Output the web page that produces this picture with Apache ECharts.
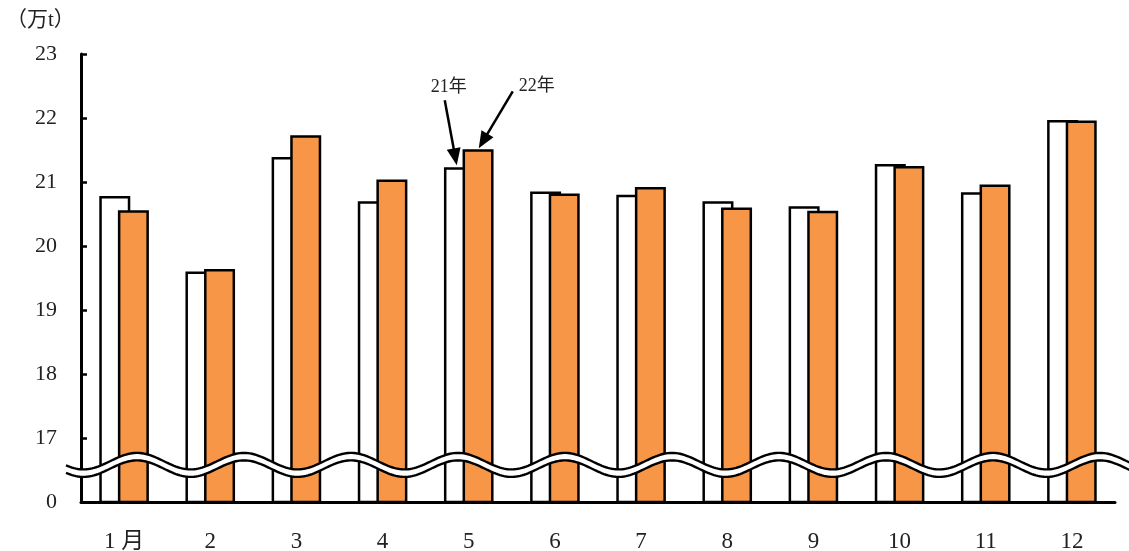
<!DOCTYPE html>
<html>
<head>
<meta charset="utf-8">
<script src="https://cdn.jsdelivr.net/npm/echarts@6/dist/echarts.min.js"></script>
<style>
html,body{margin:0;padding:0;background:#fff;}
#c{width:1129px;height:551px;}
</style>
</head>
<body>
<div id="c"></div>
<script>
const months = ['1 月','2','3','4','5','6','7','8','9','10','11','12'];
const y2021 = [20.78,19.60,21.39,20.70,21.23,20.85,20.80,20.70,20.62,21.28,20.84,21.97];
const y2022 = [20.56,19.64,21.73,21.04,21.51,20.82,20.92,20.60,20.55,21.25,20.96,21.96];
const axisMin = 16;   // shown as "0" (broken axis)
const axisMax = 23;
const breakValue = 16.58;
const unitLabel = '（万t）';
const seriesNames = ['21年','22年'];

const FONT = "'Liberation Serif','Noto Sans CJK JP',serif";
const chart = echarts.init(document.getElementById('c'));

const option = {
  animation: false,
  backgroundColor: '#fff',
  grid: {left: 81, right: 14, top: 54, bottom: 49, containLabel: false, outerBoundsMode: 'none'},
  xAxis: {
    type: 'category',
    data: months,
    axisLine: {lineStyle: {color: '#000', width: 3}},
    axisTick: {show: false},
    axisLabel: {color: '#222', fontSize: 23, fontFamily: FONT, margin: 28}
  },
  yAxis: {
    type: 'value',
    min: axisMin, max: axisMax, interval: 1,
    axisLine: {show: true, lineStyle: {color: '#000', width: 3}},
    axisTick: {show: true, inside: true, length: 6, lineStyle: {color: '#000', width: 2.5}},
    splitLine: {show: false},
    axisLabel: {color: '#222', fontSize: 22, fontFamily: FONT, margin: 24,
      formatter: v => v === axisMin ? '0' : String(v)}
  },
  series: [
    {name: seriesNames[0], type: 'bar', data: y2021, barWidth: 31, barGap: '-40%',
     itemStyle: {color: '#ffffff', borderColor: '#000', borderWidth: 2.5}},
    {name: seriesNames[1], type: 'bar', data: y2022, barWidth: 31,
     itemStyle: {color: '#F79646', borderColor: '#000', borderWidth: 2.5}}
  ],
  graphic: []
};
chart.setOption(option);

// decorations: axis-break wave, unit label, arrows
const yc = chart.convertToPixel({yAxisIndex: 0}, breakValue);
const period = 107, amp = 8.25, half = 3.75, peakX = 137;
const topPts = [], botPts = [];
for (let x = 66; x <= 1131; x += 2) {
  const d = -amp * Math.cos(2 * Math.PI * (x - peakX) / period);
  topPts.push([x, yc - half + d]);
  botPts.push([x, yc + half + d]);
}
const g = [];
g.push({type: 'polygon', z: 100, shape: {points: topPts.concat(botPts.slice().reverse())},
        style: {fill: '#fff', stroke: null}});
g.push({type: 'polyline', z: 101, shape: {points: topPts}, style: {stroke: '#000', lineWidth: 2.4, fill: null}});
g.push({type: 'polyline', z: 101, shape: {points: botPts}, style: {stroke: '#000', lineWidth: 2.4, fill: null}});

g.push({type: 'text', z: 101, left: 6, top: 10,
        style: {text: unitLabel, fontSize: 21, fontFamily: FONT, fill: '#222'}});

function arrow(sx, sy, tx, ty) {
  const L = 17, W = 7;
  const dx = tx - sx, dy = ty - sy, len = Math.hypot(dx, dy);
  const ux = dx / len, uy = dy / len;
  const bx = tx - ux * L, by = ty - uy * L;
  const px = -uy, py = ux;
  return [
    {type: 'line', z: 101, shape: {x1: sx, y1: sy, x2: bx + ux, y2: by + uy}, style: {stroke: '#000', lineWidth: 2.5}},
    {type: 'polygon', z: 101, shape: {points: [[tx, ty], [bx + px * W, by + py * W], [bx - px * W, by - py * W]]}, style: {fill: '#000'}}
  ];
}
const idx = 4;
const p1 = chart.convertToPixel({gridIndex: 0}, [idx, y2021[idx]]);
const p2 = chart.convertToPixel({gridIndex: 0}, [idx, y2022[idx]]);
const tip1 = [p1[0] - 12, p1[1] - 2];
const tip2 = [p2[0] + 10, p2[1] - 1];
g.push(...arrow(tip1[0] - 12, tip1[1] - 65, tip1[0], tip1[1]));
g.push(...arrow(tip2[0] + 34, tip2[1] - 57, tip2[0], tip2[1]));
g.push({type: 'text', z: 101, x: tip1[0] - 8, y: tip1[1] - 78,
        style: {text: seriesNames[0], fontSize: 18, fontFamily: FONT, fill: '#222', align: 'center', verticalAlign: 'middle'}});
g.push({type: 'text', z: 101, x: tip2[0] + 58, y: tip2[1] - 62,
        style: {text: seriesNames[1], fontSize: 18, fontFamily: FONT, fill: '#222', align: 'center', verticalAlign: 'middle'}});

chart.setOption({graphic: g});
</script>
</body>
</html>
